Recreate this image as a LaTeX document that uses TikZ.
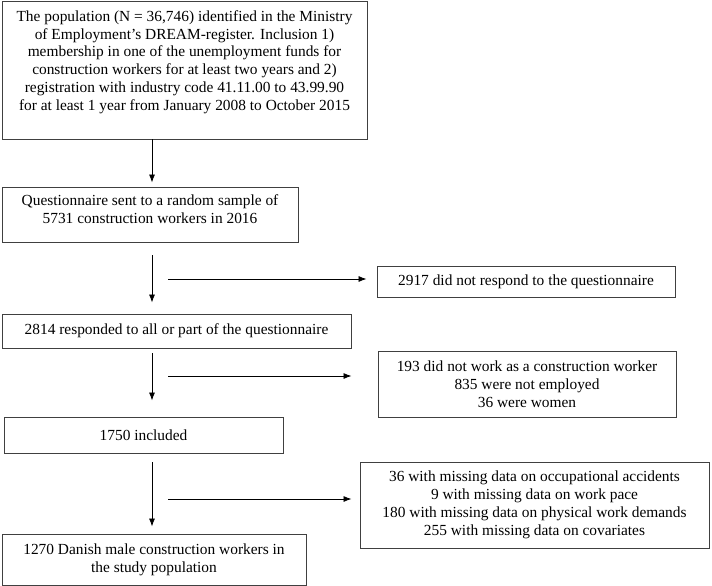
\documentclass[tikz,border=0pt]{standalone}
\usepackage{fontspec}
\setmainfont{Liberation Serif}
\usetikzlibrary{arrows.meta}
\begin{document}
\begin{tikzpicture}[>={Latex[length=8pt,width=6pt]}, x=1pt, y=-1pt,
    box/.style={draw=black!75, line width=0.9pt, align=center, inner sep=0pt,
        font=\fontsize{15.4}{17.9}\selectfont},
    flow/.style={->, line width=0.8pt}]
    \useasboundingbox (0,0) rectangle (712,586);

    % main column
    \node[box, minimum width=365, minimum height=138] (pop) at (184.5,70)
        {The population (N = 36,746) identified in the Ministry\\
         of Employment’s DREAM-register. Inclusion 1)\\
         membership in one of the unemployment funds for\\
         construction workers for at least two years and 2)\\
         registration with industry code 41.11.00 to 43.99.90\\
         for at least 1 year from January 2008 to October 2015\rule[-19pt]{0pt}{0pt}};
    \node[box, minimum width=296, minimum height=55] (quest) at (150,214.5)
        {Questionnaire sent to a random sample of\\
         5731 construction workers in 2016\rule[-10pt]{0pt}{0pt}};
    \node[box, minimum width=349, minimum height=34] (resp) at (176.5,331)
        {2814 responded to all or part of the questionnaire};
    \node[box, minimum width=279, minimum height=36] (incl) at (143.5,435)
        {1750 included};
    \node[box, minimum width=304, minimum height=51] (final) at (154,559.5)
        {1270 Danish male construction workers in\\ the study population};

    % excluded
    \node[box, minimum width=298, minimum height=31] (nonresp) at (526,281.5)
        {2917 did not respond to the questionnaire};
    \node[box, minimum width=298, minimum height=66] (excl) at (527,384)
        {193 did not work as a construction worker\\
         835 were not employed\\ 36 were women};
    \node[box, minimum width=349, minimum height=86] (miss) at (534.5,505)
        {36 with missing data on occupational accidents\\
         9 with missing data on work pace\\
         180 with missing data on physical work demands\\
         255 with missing data on covariates};

    \coordinate (spine) at (152,0);
    \draw[flow, shorten >=4pt] (pop.south -| spine) -- (quest.north -| spine);
    \draw[flow, shorten <=13pt, shorten >=11pt] (quest.south -| spine) -- (resp.north -| spine);
    \draw[flow, shorten <=5pt, shorten >=16pt] (resp.south -| spine) -- (incl.north -| spine);
    \draw[flow, shorten <=9pt, shorten >=7pt] (incl.south -| spine) -- (final.north -| spine);

    \coordinate (h1) at (168,279);
    \coordinate (h2) at (168,376);
    \coordinate (h3) at (168,499);
    \draw[flow, shorten >=10pt] (h1) -- (h1 -| nonresp.west);
    \draw[flow, shorten >=26pt] (h2) -- (h2 -| excl.west);
    \draw[flow, shorten >=8pt] (h3) -- (h3 -| miss.west);

\end{tikzpicture}
\end{document}
